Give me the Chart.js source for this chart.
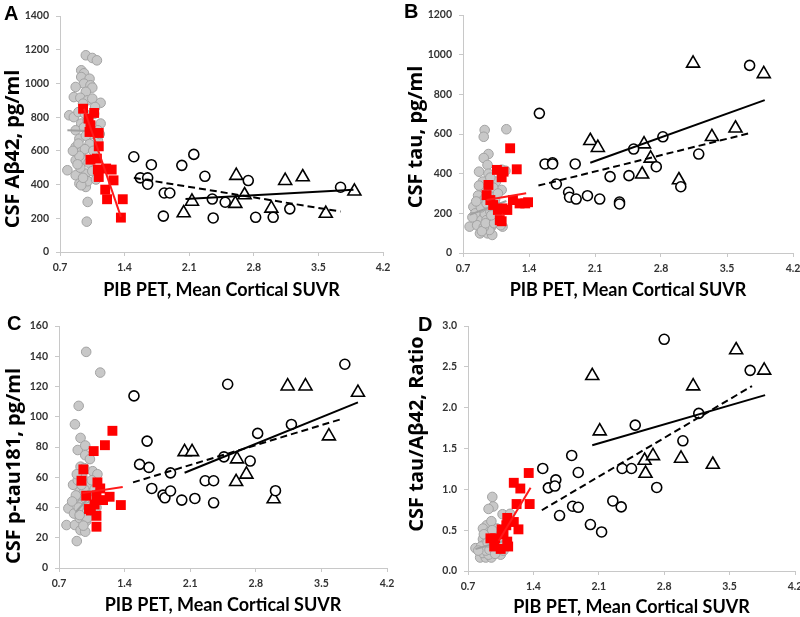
<!DOCTYPE html>
<html>
<head>
<meta charset="utf-8">
<script src="https://cdn.jsdelivr.net/npm/chart.js@4.4.1/dist/chart.umd.min.js"></script>
<style>
html,body{margin:0;padding:0;background:#fff;}
#wrap{position:relative;width:800px;height:617px;overflow:hidden;background:#fff;}
canvas{position:absolute;}
</style>
</head>
<body>
<div id="wrap">
<canvas id="cA" width="400" height="305" style="left:0;top:0"></canvas>
<canvas id="cB" width="410" height="305" style="left:400px;top:0"></canvas>
<canvas id="cC" width="400" height="314" style="left:0;top:305px"></canvas>
<canvas id="cD" width="410" height="314" style="left:400px;top:305px"></canvas>
</div>
<script>
// ---------- shared ----------
const xTicks = [0.7, 1.4, 2.1, 2.8, 3.5, 4.2];
const xTitle = 'PIB PET, Mean Cortical SUVR';

// ---------- Panel A: CSF Aβ42 ----------
const aYTicks = [0, 200, 400, 600, 800, 1000, 1200, 1400];
const aGrayX = [0.98,1.05,1.10,0.93,0.96,0.93,1.02,0.96,1.03,0.87,1.05,0.98,0.85,0.92,1.00,1.05,1.14,0.95,0.80,0.85,0.90,1.08,0.93,1.14,1.00,0.87,1.11,0.96,1.04,0.91,1.11,0.98,0.87,0.90,1.02,0.93,0.97,1.06,0.87,0.96,0.91,1.01,0.78,0.87,0.98,0.92,1.05,0.91,0.98,1.00,0.93,0.95,1.00,0.99,1.09,0.89,1.07,0.97,1.13,0.84];
const aGrayY = [1167,1151,1137,1078,1060,1038,1028,999,989,979,975,950,919,915,900,910,885,880,811,800,830,860,762,762,780,722,722,740,700,672,662,690,623,643,640,593,610,600,544,544,570,530,485,455,465,500,480,406,386,420,396,440,297,180,430,520,820,820,700,600];
const aRedX = [0.95,1.01,1.07,1.03,1.02,1.12,1.12,1.03,1.10,1.11,1.12,1.20,1.26,1.28,1.19,1.21,1.38,1.36];
const aRedY = [850,791,825,752,712,706,627,548,554,489,445,495,489,425,370,313,313,204];
const aCircX = [1.50,1.57,1.65,1.65,1.69,1.83,1.89,1.82,2.02,2.15,2.27,2.35,2.36,2.49,2.74,2.82,3.01,3.19,3.74];
const aCircY = [565,440,440,402,518,350,350,213,514,579,449,314,202,295,424,206,206,256,384];
const aTriX = [2.04,2.13,2.61,2.60,2.70,2.99,3.14,3.33,3.58,3.89];
const aTriY = [231,300,453,287,338,259,423,445,228,360];
const aGrayLineX = [0.78,1.08], aGrayLineY = [722,716];
const aRedLineX = [0.96,1.36], aRedLineY = [850,208];
const aCircLineX = [1.50,3.74], aCircLineY = [440,240];
const aTriLineX = [2.06,3.88], aTriLineY = [315,370];

// ---------- Panel B: CSF tau ----------
const bYTicks = [0, 200, 400, 600, 800, 1000, 1200];
const bGrayX = [0.93,0.92,1.16,0.97,0.92,0.96,0.87,0.97,1.15,1.11,0.91,0.86,0.81,0.77,0.88,0.96,1.01,1.00,0.86,1.12,0.93,0.99,0.91,0.83,0.95,0.98,1.05,1.11,0.90,0.94,0.98,1.02,0.89,0.97,1.04,0.85,0.92,1.06,1.08,0.80,0.90,0.94,1.03,0.99,1.10,0.87,0.84,1.07,0.95,1.00];
const bGrayY = [620,586,624,499,479,444,410,400,415,318,318,290,233,133,99,99,91,133,166,133,200,210,360,200,166,116,360,420,260,280,300,330,230,240,270,140,130,180,230,180,110,150,150,380,140,340,260,300,250,190];
const bRedX = [1.20,1.27,1.06,1.13,1.11,0.97,0.95,0.99,1.02,1.23,1.36,1.39,1.07,1.12,1.17,1.09,1.11,1.30];
const bRedY = [528,422,419,410,382,343,292,267,242,267,250,256,217,225,217,166,160,250];
const bCircX = [1.51,1.57,1.65,1.65,1.69,1.89,1.82,1.83,1.90,2.02,2.15,2.26,2.36,2.36,2.46,2.51,2.75,2.82,3.01,3.20,3.74];
const bCircY = [704,449,455,449,348,449,306,281,272,289,272,385,257,247,390,524,435,586,334,499,946];
const bTriX = [2.05,2.13,2.62,2.69,2.60,2.99,3.14,3.34,3.59,3.89];
const bTriY = [566,531,549,477,397,368,956,586,629,903];
const bGrayLineX = [0.77,1.16], bGrayLineY = [192,262];
const bRedLineX = [0.95,1.37], bRedLineY = [267,301];
const bCircLineX = [1.50,3.74], bCircLineY = [340,604];
const bTriLineX = [2.05,3.90], bTriLineY = [455,771];

// ---------- Panel C: CSF p-tau181 ----------
const cYTicks = [0, 20, 40, 60, 80, 100, 120, 140, 160];
const cGrayX = [0.99,1.14,0.91,0.87,0.93,0.90,0.98,0.98,1.03,0.93,1.06,1.11,0.85,0.92,0.80,0.89,0.78,0.87,0.92,0.93,0.89,0.98,0.99,0.95,0.96,1.04,0.95,1.00,0.88,0.97,1.02,0.94,0.86,1.01,0.90,1.08,0.97,1.05,0.84,0.91,1.00,0.96,1.06,0.89,0.94,1.10,0.98,0.92];
const cGrayY = [142.9,129.2,107.2,95,86,78,81,74.6,72,67,64,62,55,50.5,39.4,44,28.4,28.4,33,25,17.8,24,31,37,44,37,60,55,48,52,48,42,36,41,58,52,66,58,44,40,33,28,45,62,55,40,46,35];
const cRedX = [1.27,1.19,1.07,0.96,0.94,1.11,1.14,0.99,1.10,1.17,1.24,1.36,1.02,1.08,1.10,1.10,1.04];
const cRedY = [90.7,81.2,77.3,65.2,57.7,56.6,52.6,47.8,48,44.9,47.1,41.6,39,42,34.5,27.3,38];
const cCircX = [1.50,1.56,1.64,1.66,1.69,1.81,1.83,1.89,1.89,2.01,2.15,2.26,2.35,2.35,2.46,2.50,2.74,2.82,3.01,3.18,3.75];
const cCircY = [113.8,68.5,83.9,66.5,52.6,48.2,46.4,62.9,50.9,44.9,46,57.7,57.7,43.1,73.5,121.5,70.7,89,51.1,94.9,134.7];
const cTriX = [2.04,2.12,2.60,2.59,2.70,2.99,3.14,3.33,3.58,3.89];
const cTriY = [76.8,76.8,72,57,61.9,45.6,120.2,120.2,87.2,116];
const cGrayLineX = [0.88,1.14], cGrayLineY = [37,55];
const cRedLineX = [0.95,1.38], cRedLineY = [49.5,53.5];
const cCircLineX = [1.49,3.71], cCircLineY = [56.6,98.4];
const cTriLineX = [2.04,3.89], cTriLineY = [63,109.5];

// ---------- Panel D: CSF tau/Aβ42 ratio ----------
const dYTicks = [0.0, 0.5, 1.0, 1.5, 2.0, 2.5, 3.0];
const dGrayX = [0.96,0.97,0.92,1.07,1.15,0.90,0.86,0.95,0.78,0.83,0.89,0.95,0.86,0.91,0.97,0.86,0.90,1.00,1.05,0.93,0.88,0.94,0.99,1.03,0.92,0.84,0.97,1.01,0.89,0.95,1.08,0.87,1.02,0.93,0.99,0.81,1.10,0.96,1.06,0.91];
const dGrayY = [0.907,0.79,0.76,0.695,0.70,0.56,0.52,0.61,0.28,0.165,0.165,0.165,0.22,0.28,0.25,0.39,0.43,0.28,0.20,0.48,0.33,0.36,0.45,0.33,0.20,0.30,0.38,0.52,0.25,0.30,0.25,0.45,0.40,0.26,0.21,0.25,0.32,0.50,0.36,0.35];
const dRedX = [1.35,1.19,1.26,1.22,1.36,1.12,1.19,1.11,1.24,1.06,0.99,0.94,1.12,0.98,1.05,1.13,1.08];
const dRedY = [1.20,1.08,1.01,0.82,0.82,0.65,0.60,0.56,0.51,0.51,0.40,0.40,0.36,0.30,0.27,0.30,0.45];
const dCircX = [1.50,1.56,1.64,1.63,1.68,1.81,1.82,1.88,1.88,2.01,2.13,2.25,2.34,2.35,2.45,2.49,2.72,2.80,3.00,3.17,3.72];
const dCircY = [1.256,1.018,1.116,1.04,0.679,1.415,0.793,0.78,1.206,0.569,0.478,0.858,0.785,1.255,1.255,1.786,1.023,2.837,1.594,1.93,2.457];
const dTriX = [2.03,2.11,2.59,2.60,2.68,2.98,3.11,3.32,3.57,3.87];
const dTriY = [2.39,1.713,1.353,1.194,1.41,1.378,2.264,1.304,2.706,2.457];
const dGrayLineX = [0.78,1.12], dGrayLineY = [0.27,0.38];
const dRedLineX = [1.03,1.37], dRedLineY = [0.37,1.02];
const dCircLineX = [1.49,3.74], dCircLineY = [0.744,2.265];
const dTriLineX = [2.03,3.88], dTriLineY = [1.54,2.154];

// ---------- helpers ----------
function pts(xs, ys) { return xs.map((x, i) => ({x: x, y: ys[i]})); }

const panelText = {
  id: 'panelText',
  afterDraw(chart, args, o) {
    const ctx = chart.ctx;
    ctx.save();
    ctx.fillStyle = '#000';
    ctx.textBaseline = 'middle';
    ctx.textAlign = 'left';
    ctx.font = 'bold 20px "Liberation Sans", Arial, sans-serif';
    ctx.fillText(o.letter, o.lx, o.ly);
    ctx.translate(o.tx, o.ty);
    ctx.rotate(-Math.PI / 2);
    ctx.textAlign = 'center';
    ctx.font = 'bold 20px "Open Sans", sans-serif';
    ctx.fillText(o.title, 0, 0);
    ctx.restore();
  }
};

function build(id, p) {
  const tickFont = {family: 'Lato, sans-serif', weight: 'bold', size: 10.5};
  const axisCol = '#c8c8c8';
  new Chart(document.getElementById(id), {
    type: 'scatter',
    data: {
      datasets: [
        {label: 'PIB+ AD trend', data: pts(p.triLX, p.triLY), showLine: true, borderColor: '#000', borderWidth: 2, pointRadius: 0, order: 1},
        {label: 'PIB+ CN trend', data: pts(p.circLX, p.circLY), showLine: true, borderColor: '#000', borderWidth: 2, borderDash: [7, 4], pointRadius: 0, order: 1},
        {label: 'Red trend', data: pts(p.redLX, p.redLY), showLine: true, borderColor: '#ff1a1a', borderWidth: 2, pointRadius: 0, order: 2},
        {label: 'Red', data: pts(p.redX, p.redY), pointStyle: 'rect', pointRadius: 7, backgroundColor: '#ff0000', borderColor: '#ff0000', pointBorderWidth: 0, order: 3},
        {label: 'PIB+ CN', data: pts(p.circX, p.circY), pointStyle: 'circle', pointRadius: 5, backgroundColor: '#fff', borderColor: '#000', pointBorderWidth: 1.6, order: 4},
        {label: 'PIB+ AD', data: pts(p.triX, p.triY), pointStyle: 'triangle', pointRadius: 7.5, backgroundColor: '#fff', borderColor: '#000', pointBorderWidth: 1.6, order: 4},
        {label: 'Gray trend', data: pts(p.grayLX, p.grayLY), showLine: true, borderColor: '#a0a0a0', borderWidth: 2, pointRadius: 0, order: 5},
        {label: 'PIB- CN', data: pts(p.grayX, p.grayY), pointStyle: 'circle', pointRadius: 4.8, backgroundColor: '#c8c8c8', borderColor: '#a3a3a3', pointBorderWidth: 1, order: 6}
      ]
    },
    options: {
      responsive: false,
      animation: false,
      devicePixelRatio: 1,
      layout: {padding: p.pad},
      plugins: {
        legend: {display: false},
        tooltip: {enabled: false},
        panelText: p.text
      },
      scales: {
        x: {
          type: 'linear', min: 0.7, max: 4.2,
          afterBuildTicks: s => { s.ticks = xTicks.map(v => ({value: v})); },
          afterFit: s => { s.height = p.xH; },
          ticks: {callback: v => Number(v).toFixed(1), font: tickFont, color: '#333', padding: p.xPad, maxRotation: 0, autoSkip: false},
          grid: {display: true, drawOnChartArea: false, drawTicks: true, tickLength: 4, color: axisCol},
          border: {display: true, color: axisCol, width: 1},
          title: {display: true, text: xTitle, color: '#000', font: {family: 'Lato, sans-serif', weight: 'bold', size: 18}, padding: {top: 0, bottom: p.xtb}}
        },
        y: {
          type: 'linear', min: p.yTicks[0], max: p.yTicks[p.yTicks.length - 1],
          afterBuildTicks: s => { s.ticks = p.yTicks.map(v => ({value: v})); },
          afterFit: s => { s.width = p.yW; },
          ticks: {callback: p.yFmt, font: tickFont, color: '#333', padding: 7, autoSkip: false},
          grid: {display: true, drawOnChartArea: false, drawTicks: true, tickLength: 4, color: axisCol},
          border: {display: true, color: axisCol, width: 1}
        }
      }
    },
    plugins: [panelText]
  });
}

const intFmt = v => String(Math.round(v));

build('cA', {
  grayX: aGrayX, grayY: aGrayY, redX: aRedX, redY: aRedY, circX: aCircX, circY: aCircY, triX: aTriX, triY: aTriY,
  grayLX: aGrayLineX, grayLY: aGrayLineY, redLX: aRedLineX, redLY: aRedLineY, circLX: aCircLineX, circLY: aCircLineY, triLX: aTriLineX, triLY: aTriLineY,
  yTicks: aYTicks, yFmt: intFmt,
  pad: {left: 0, top: 16, right: 17, bottom: 0}, yW: 60, xH: 53, xPad: 5, xtb: 4,
  text: {letter: 'A', lx: 4, ly: 14, title: 'CSF Aβ42, pg/ml', tx: 13, ty: 149}
});
build('cB', {
  grayX: bGrayX, grayY: bGrayY, redX: bRedX, redY: bRedY, circX: bCircX, circY: bCircY, triX: bTriX, triY: bTriY,
  grayLX: bGrayLineX, grayLY: bGrayLineY, redLX: bRedLineX, redLY: bRedLineY, circLX: bCircLineX, circLY: bCircLineY, triLX: bTriLineX, triLY: bTriLineY,
  yTicks: bYTicks, yFmt: intFmt,
  pad: {left: 0, top: 15, right: 17, bottom: 0}, yW: 63, xH: 52, xPad: 5, xtb: 4,
  text: {letter: 'B', lx: 4, ly: 12, title: 'CSF tau, pg/ml', tx: 16, ty: 137}
});
build('cC', {
  grayX: cGrayX, grayY: cGrayY, redX: cRedX, redY: cRedY, circX: cCircX, circY: cCircY, triX: cTriX, triY: cTriY,
  grayLX: cGrayLineX, grayLY: cGrayLineY, redLX: cRedLineX, redLY: cRedLineY, circLX: cCircLineX, circLY: cCircLineY, triLX: cTriLineX, triLY: cTriLineY,
  yTicks: cYTicks, yFmt: intFmt,
  pad: {left: 0, top: 21, right: 13, bottom: 0}, yW: 59, xH: 51, xPad: 5, xtb: 3,
  text: {letter: 'C', lx: 7, ly: 19, title: 'CSF p-tau181, pg/ml', tx: 14, ty: 161}
});
build('cD', {
  grayX: dGrayX, grayY: dGrayY, redX: dRedX, redY: dRedY, circX: dCircX, circY: dCircY, triX: dTriX, triY: dTriY,
  grayLX: dGrayLineX, grayLY: dGrayLineY, redLX: dRedLineX, redLY: dRedLineY, circLX: dCircLineX, circLY: dCircLineY, triLX: dTriLineX, triLY: dTriLineY,
  yTicks: dYTicks, yFmt: v => Number(v).toFixed(1),
  pad: {left: 0, top: 21, right: 15, bottom: 0}, yW: 68, xH: 48, xPad: 5, xtb: 1,
  text: {letter: 'D', lx: 18, ly: 20, title: 'CSF tau/Aβ42, Ratio', tx: 17, ty: 129}
});
</script>
</body>
</html>
